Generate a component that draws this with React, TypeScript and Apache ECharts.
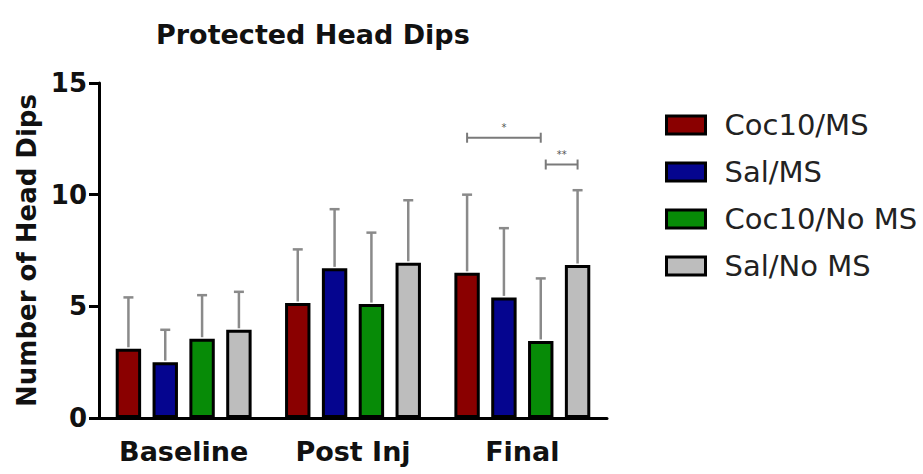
import React, { useEffect, useRef } from 'react';
import * as echarts from 'echarts';

// Session categories along the x axis
const categories = ['Baseline', 'Post Inj', 'Final'];

// Treatment groups
const groupNames = ['Coc10/MS', 'Sal/MS', 'Coc10/No MS', 'Sal/No MS'];
const groupColors = ['#8a0000', '#05058f', '#078b07', '#bdbdbd'];

// Mean number of protected head dips per group, one value per session
const coc10MsMean = [3.1, 5.15, 6.5];
const salMsMean = [2.5, 6.7, 5.4];
const coc10NoMsMean = [3.55, 5.1, 3.45];
const salNoMsMean = [3.95, 6.95, 6.85];

// Standard deviations (upper error bars)
const coc10MsSd = [2.3, 2.4, 3.5];
const salMsSd = [1.45, 2.65, 3.1];
const coc10NoMsSd = [1.95, 3.2, 2.8];
const salNoMsSd = [1.7, 2.8, 3.35];

const groupMeans = [coc10MsMean, salMsMean, coc10NoMsMean, salNoMsMean];
const groupSds = [coc10MsSd, salMsSd, coc10NoMsSd, salNoMsSd];

// Y axis ticks
const yTicks = [0, 5, 10, 15];

// Significance comparisons: session index, first group, second group, bracket level, label
const sigSession = [2, 2];
const sigFromGroup = [0, 2];
const sigToGroup = [2, 3];
const sigLevel = [12.55, 11.35];
const sigLabel = ['*', '**'];

const BAR_FRAC = 0.15;
const GAP_FRAC = 0.45;
const FONT = '"DejaVu Sans", "Liberation Sans", Arial, sans-serif';

function groupOffset(api: any, groupIdx: number): number {
  const band = api.coord([1, 0])[0] - api.coord([0, 0])[0];
  const bw = band * BAR_FRAC;
  const step = bw * (1 + GAP_FRAC);
  return (groupIdx - (groupNames.length - 1) / 2) * step;
}

export default function App() {
  const ref = useRef<HTMLDivElement>(null);

  useEffect(() => {
    document.body.style.margin = '0';
    if (!ref.current) return;
    const chart = echarts.init(ref.current, undefined, { renderer: 'svg' });

    const barSeries = groupNames.map((name, g) => ({
      name,
      type: 'bar',
      data: groupMeans[g],
      barWidth: `${BAR_FRAC * 100}%`,
      barGap: `${GAP_FRAC * 100}%`,
      itemStyle: { color: groupColors[g], borderColor: '#000', borderWidth: 3 },
      z: 2,
    }));

    const errorSeries = groupNames.map((name, g) => ({
      name: name + ' SD',
      type: 'custom',
      data: categories.map((_, i) => [i, groupMeans[g][i], groupSds[g][i]]),
      encode: { x: 0, y: 1 },
      z: 3,
      silent: true,
      renderItem: (params: any, api: any) => {
        const cat = api.value(0);
        const mean = api.value(1);
        const sd = api.value(2);
        const p0 = api.coord([cat, mean]);
        const p1 = api.coord([cat, mean + sd]);
        const x = p0[0] + groupOffset(api, g);
        const style = { stroke: '#8a8a8a', lineWidth: 2.5 };
        return {
          type: 'group',
          children: [
            { type: 'line', shape: { x1: x, y1: p0[1] - 1.5, x2: x, y2: p1[1] }, style },
            { type: 'line', shape: { x1: x - 5, y1: p1[1], x2: x + 5, y2: p1[1] }, style },
          ],
        };
      },
    }));

    const sigSeries = {
      name: 'significance',
      type: 'custom',
      data: sigSession.map((s, i) => [s, sigLevel[i]]),
      encode: { x: 0, y: 1 },
      z: 4,
      silent: true,
      renderItem: (params: any, api: any) => {
        const i = params.dataIndex;
        const cat = api.value(0);
        const lvl = api.value(1);
        const c = api.coord([cat, lvl]);
        const shift = i === 1 ? 5 : 0;
        const x1 = c[0] + groupOffset(api, sigFromGroup[i]) + shift;
        const x2 = c[0] + groupOffset(api, sigToGroup[i]);
        const y = c[1];
        const style = { stroke: '#7a7a7a', lineWidth: 2 };
        return {
          type: 'group',
          children: [
            { type: 'line', shape: { x1, y1: y, x2, y2: y }, style },
            { type: 'line', shape: { x1, y1: y - 5, x2: x1, y2: y + 5 }, style },
            { type: 'line', shape: { x1: x2, y1: y - 5, x2, y2: y + 5 }, style },
            {
              type: 'text',
              style: {
                text: sigLabel[i],
                x: (x1 + x2) / 2,
                y: y - 5,
                align: 'center',
                verticalAlign: 'bottom',
                fontSize: 10,
                fontFamily: FONT,
                fill: '#555',
              },
            },
          ],
        };
      },
    };

    chart.setOption({
      animation: false,
      backgroundColor: '#fff',
      title: {
        text: 'Protected Head Dips',
        left: 151,
        top: 16,
        textStyle: { fontFamily: FONT, fontSize: 27, fontWeight: 'bold', color: '#111' },
      },
      legend: {
        data: groupNames,
        orient: 'vertical',
        left: 665,
        top: 110,
        padding: 0,
        itemWidth: 39,
        itemHeight: 18,
        itemGap: 17,
        selectedMode: false,
        icon: 'rect',
        itemStyle: { borderColor: '#000', borderWidth: 3 },
        textStyle: {
          fontFamily: FONT,
          fontSize: 29,
          color: '#222',
          lineHeight: 30,
          padding: [0, 0, 0, 14],
        },
      },
      grid: { left: 99, top: 83, width: 508, height: 335, containLabel: false },
      xAxis: {
        type: 'category',
        data: categories,
        axisLine: { lineStyle: { color: '#000', width: 3 } },
        axisTick: { alignWithLabel: true, length: 8, lineStyle: { color: '#000', width: 3 } },
        axisLabel: {
          margin: 20,
          fontFamily: FONT,
          fontSize: 27,
          fontWeight: 'bold',
          color: '#111',
        },
      },
      yAxis: {
        type: 'value',
        min: yTicks[0],
        max: yTicks[yTicks.length - 1],
        interval: yTicks[1] - yTicks[0],
        name: 'Number of Head Dips',
        nameLocation: 'middle',
        nameGap: 58,
        nameTextStyle: { fontFamily: FONT, fontSize: 26, fontWeight: 'bold', color: '#111' },
        splitLine: { show: false },
        axisLine: { show: true, lineStyle: { color: '#000', width: 3 } },
        axisTick: { show: true, length: 10, lineStyle: { color: '#000', width: 3 } },
        axisLabel: {
          margin: 12,
          fontFamily: FONT,
          fontSize: 26,
          fontWeight: 'bold',
          color: '#111',
        },
      },
      series: [...barSeries, ...errorSeries, sigSeries],
    });

    return () => chart.dispose();
  }, []);

  return <div ref={ref} style={{ width: 923, height: 474 }} />;
}
